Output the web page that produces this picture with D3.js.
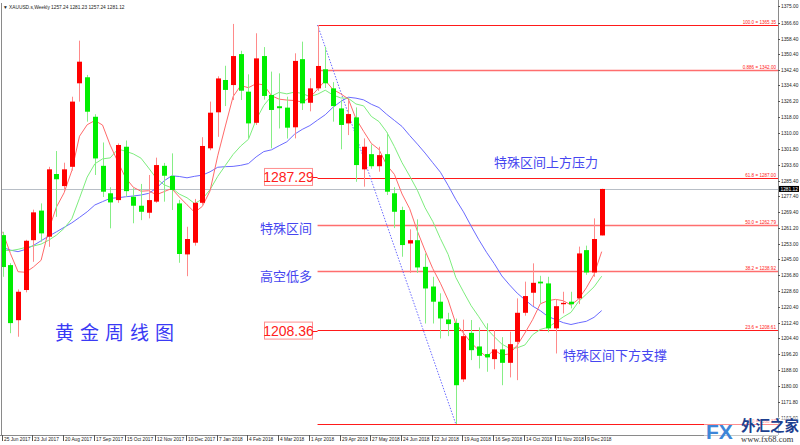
<!DOCTYPE html>
<html><head><meta charset="utf-8">
<script src="https://cdn.jsdelivr.net/npm/d3@7"></script>
<style>body{margin:0;background:#fff}svg{display:block}</style>
</head><body><svg id="c" width="800" height="445"></svg>
<script>
// ---------------- data ----------------
const titleText = "\u25BC XAUUSD.s,Weekly  1257.24 1281.23 1257.24 1281.12";
const firstWeek = "2017-06-25", lastWeek = "2018-12-23";

const open = [1257.4,1242.0,1213.7,1229.2,1254.8,1270.0,1256.6,1288.8,1282.6,1292.5,
1335.4,1338.5,1318.2,1293.0,1278.9,1275.4,1302.8,1277.1,1272.5,1268.9,
1274.6,1293.0,1287.8,1273.7,1247.5,1253.5,1274.0,1302.0,1320.5,1337.1,
1334.5,1350.4,1331.1,1315.1,1349.4,1329.4,1323.6,1322.9,1312.8,1347.8,
1325.4,1332.8,1342.6,1332.8,1322.5,1314.8,1317.9,1291.2,1299.0,1292.8,
1299.0,1278.9,1270.3,1253.1,1254.8,1241.1,1231.0,1223.2,1214.1,1212.3,
1183.3,1207.2,1200.2,1196.3,1193.7,1198.7,1191.8,1202.6,1217.5,1227.8,
1233.5,1232.6,1209.5,1221.9,1223.2,1224.9,1249.7,1238.2,1257.24];
const high = [1259.1,1243.0,1229.5,1255.0,1270.5,1273.7,1292.5,1300.6,1294.6,1328.5,
1357.3,1339.7,1319.5,1305.0,1282.0,1304.5,1306.0,1281.5,1283.7,1288.3,
1297.2,1294.5,1299.4,1275.5,1261.7,1276.0,1307.7,1326.0,1339.0,1344.4,
1365.9,1352.1,1340.0,1361.1,1354.0,1341.4,1340.5,1328.5,1350.8,1356.8,
1338.0,1365.35,1354.2,1336.0,1327.0,1326.8,1323.0,1307.1,1304.0,1302.8,
1310.0,1282.0,1272.0,1260.4,1265.5,1248.0,1236.0,1227.5,1217.5,1214.5,
1214.0,1213.8,1210.0,1212.1,1208.6,1205.0,1207.8,1224.9,1233.5,1242.9,
1236.5,1236.0,1224.4,1228.3,1228.3,1251.5,1252.0,1266.0,1281.23];
const low = [1236.0,1207.0,1205.2,1228.0,1243.7,1254.0,1251.4,1266.8,1280.0,1290.5,
1326.0,1315.7,1288.3,1277.0,1260.9,1274.0,1277.1,1263.5,1265.1,1266.0,
1274.0,1274.6,1270.3,1243.2,1236.3,1252.0,1273.0,1301.0,1307.9,1323.7,
1326.8,1326.8,1307.1,1314.0,1327.0,1302.0,1312.2,1307.0,1307.1,1321.7,
1321.0,1331.5,1333.0,1315.7,1301.5,1308.8,1284.8,1282.3,1291.5,1290.0,
1278.0,1261.0,1246.3,1238.0,1238.0,1212.0,1212.0,1204.3,1205.5,1160.37,
1182.0,1193.2,1188.9,1187.2,1188.5,1180.3,1184.3,1182.9,1216.0,1221.0,
1222.3,1207.5,1196.6,1217.2,1219.8,1222.0,1237.0,1236.0,1257.24];
const close = [1241.0,1212.2,1228.3,1254.5,1269.1,1258.3,1291.2,1286.1,1291.2,1326.0,
1346.5,1320.8,1296.8,1279.7,1274.2,1303.7,1280.0,1272.5,1269.4,1275.4,
1293.4,1287.9,1280.6,1247.7,1255.4,1274.0,1303.2,1320.3,1337.9,1332.0,
1349.4,1331.6,1314.8,1348.2,1328.9,1321.7,1322.6,1312.6,1346.9,1325.1,
1332.8,1344.3,1335.4,1323.7,1314.0,1319.6,1293.4,1302.8,1292.8,1298.5,
1279.7,1269.4,1252.3,1254.8,1240.8,1230.0,1223.2,1214.6,1211.7,1180.3,
1205.5,1198.3,1195.4,1194.6,1198.7,1191.8,1201.4,1217.5,1226.1,1232.9,
1232.6,1209.5,1220.9,1222.6,1221.9,1248.0,1238.2,1255.4,1281.12];

// moving-average values before enough visible bars exist
const ma5Head  = [1259.1,1248.0,1238.6,1238.3];
const ma10Head = [1249.7,1249.4,1250.1,1251.1,1251.8,1252.8,1254.8,1257.4,1260.9];
const ma20Head = [1251.1,1249.7,1248.9,1250.1,1252.1,1254.5,1256.9,1259.1,1261.4,1263.7,
                  1266.5,1269.4,1272.9,1274.6,1276.3,1276.6,1277.1,1277.5,1278.0];

const priceTicks = ["1375.00","1366.60","1358.40","1350.40","1342.40","1334.40","1326.20","1318.00",
"1310.00","1301.80","1293.60","1285.40","1277.40","1269.40","1261.20","1253.00","1245.00","1236.80",
"1228.60","1220.40","1212.40","1204.40","1196.20","1188.00","1180.00","1171.80","1163.60"];
const dateTicks = ["25 Jun 2017","23 Jul 2017","20 Aug 2017","17 Sep 2017","15 Oct 2017","12 Nov 2017",
"10 Dec 2017","7 Jan 2018","4 Feb 2018","4 Mar 2018","1 Apr 2018","29 Apr 2018","27 May 2018",
"24 Jun 2018","22 Jul 2018","19 Aug 2018","16 Sep 2018","14 Oct 2018","11 Nov 2018","9 Dec 2018"];

const fibNames  = ["100.0","0.886","61.8","50.0","38.2","23.6","0.0"];
const fibValues = [1365.35,1342.00,1287.00,1262.79,1238.92,1208.61,1160.37];
const fibStrong = [true,false,true,false,false,true,true];
const currentPrice = 1281.12;
const swingHighWeek = "2018-04-08", swingLowWeek = "2018-08-12";

const boxTexts  = ["1287.29","1208.36"];
const boxValues = [1287.29,1208.36];
const noteTexts  = ["特殊区间上方压力","特殊区间","高空低多","特殊区间下方支撑"];
const noteValues = [1295.0,1261.0,1236.4,1196.0];
const chartTitle = "黄金周线图";

// ---------------- drawing ----------------
const svg = d3.select("#c");
const axisX = 778, axisY = 435;
const noteX = [494, 260, 260, 563];
const parse = d3.timeParse("%Y-%m-%d");
const parseTick = d3.timeParse("%d %b %Y");
const weeks = d3.timeSunday.range(parse(firstWeek), d3.timeDay.offset(parse(lastWeek), 1));
const x = d3.scaleTime().domain([parse(firstWeek), parse(lastWeek)]).range([2.7, 601.7]);
const y = d3.scaleLinear().domain([1160.37, 1365.35]).range([424, 25]);

const bars = weeks.map((d,i)=>({d, o:open[i], h:high[i], l:low[i], c:close[i]}));
function sma(p, head){ return close.map((c,i)=> i < p-1 ? head[i] : d3.mean(close.slice(i-p+1, i+1))); }
const ma5 = sma(5, ma5Head), ma10 = sma(10, ma10Head), ma20 = sma(20, ma20Head);

const plot = svg.append("g");
plot.append("clipPath").attr("id","pc").append("rect").attr("x",2).attr("y",0).attr("width",axisX-2).attr("height",axisY);

// current price line
plot.append("line").attr("x1",2).attr("x2",axisX).attr("y1",Math.round(y(currentPrice))+0.5).attr("y2",Math.round(y(currentPrice))+0.5)
  .attr("stroke","#b8bec6").attr("stroke-width",1);

// fib lines
const fx0 = x(parse(swingHighWeek));
fibValues.forEach((v,i)=>{
  const yy = Math.round(y(v)) + 0.5;
  plot.append("line").attr("x1",fx0).attr("x2",axisX).attr("y1",yy).attr("y2",yy)
    .attr("stroke", fibStrong[i] ? "#ff1a1a" : "#ff6e6e").attr("stroke-width", fibStrong[i] ? 1 : 1.6);
  plot.append("text").attr("x",axisX-2).attr("y",yy-1.5).attr("text-anchor","end")
    .attr("font-family","Liberation Sans, Arial").attr("font-size",4.6).attr("fill","#ff2020")
    .text(fibNames[i] + " = " + v.toFixed(2));
});

// trend dotted line
plot.append("line").attr("x1",fx0).attr("y1",y(fibValues[0])).attr("x2",x(parse(swingLowWeek))).attr("y2",y(fibValues[6]))
  .attr("stroke","#6a6aff").attr("stroke-width",1).attr("stroke-dasharray","1.5,1.5");

// moving averages
const lineGen = arr => d3.line().x((d,i)=>x(weeks[i])).y(d=>y(d))(arr);
const maG = plot.append("g").attr("clip-path","url(#pc)").attr("fill","none").attr("stroke-width",1);
maG.append("path").attr("d",lineGen(ma20)).attr("stroke","#6b6bff");
maG.append("path").attr("d",lineGen(ma10)).attr("stroke","#7ded7d");
maG.append("path").attr("d",lineGen(ma5)).attr("stroke","#ff6a6a");

// candles
const cg = plot.append("g").attr("clip-path","url(#pc)");
bars.forEach(b=>{
  const cx = Math.round(x(b.d));
  const up = b.c >= b.o;
  cg.append("line").attr("x1",cx+0.5).attr("x2",cx+0.5).attr("y1",y(b.h)).attr("y2",y(b.l))
    .attr("stroke", up ? "#ff8a8a" : "#86ee86").attr("stroke-width",1);
  const top = y(Math.max(b.o,b.c)), bot = y(Math.min(b.o,b.c));
  cg.append("rect").attr("x",cx-2).attr("width",5).attr("y",top).attr("height",Math.max(1.2,bot-top))
    .attr("fill", up ? "#ff0000" : "#00ee00");
});

// boxed price labels
boxValues.forEach((v,i)=>{
  const yy = y(v);
  plot.append("line").attr("x1",312.7).attr("x2",fx0).attr("y1",Math.round(yy)+0.5).attr("y2",Math.round(yy)+0.5).attr("stroke","#ff1a1a");
  plot.append("rect").attr("x",264.5).attr("y",yy-8.5).attr("width",48).attr("height",17)
    .attr("fill","#fff").attr("stroke","#ff8e8e").attr("stroke-width",1);
  plot.append("text").attr("x",288.5).attr("y",yy+5).attr("text-anchor","middle")
    .attr("font-family","Liberation Sans, Arial").attr("font-size",14).attr("fill","#ff2020").text(boxTexts[i]);
});

// notes
noteTexts.forEach((t,i)=>{
  plot.append("text").attr("x", noteX[i]).attr("y",y(noteValues[i])+5)
    .attr("font-family","Noto Sans CJK SC").attr("font-size",13).attr("fill","#4646f0").text(t);
});
plot.append("text").attr("x",55).attr("y",340).attr("font-family","Noto Sans CJK SC").attr("font-size",19)
  .attr("letter-spacing",6).attr("fill","#3a3af5").text(chartTitle);

// frame
svg.append("line").attr("x1",1.5).attr("x2",1.5).attr("y1",3).attr("y2",axisY).attr("stroke","#8a8a8a");
svg.append("line").attr("x1",axisX+0.5).attr("x2",axisX+0.5).attr("y1",0).attr("y2",axisY).attr("stroke","#8a8a8a");
svg.append("line").attr("x1",0).attr("x2",axisX).attr("y1",axisY+0.5).attr("y2",axisY+0.5).attr("stroke","#8a8a8a");

// right price axis
const ra = svg.append("g").attr("font-family","Liberation Sans, Arial").attr("font-size",4.8).attr("fill","#222");
priceTicks.forEach(t=>{
  const yy = Math.round(y(+t)) + 0.5;
  ra.append("line").attr("x1",axisX).attr("x2",axisX+2).attr("y1",yy).attr("y2",yy).attr("stroke","#555");
  ra.append("text").attr("x",axisX+3).attr("y",yy+1.7).text(t);
});
const cpY = y(currentPrice);
svg.append("rect").attr("x",axisX+1).attr("y",cpY-3).attr("width",20).attr("height",6).attr("fill","#000");
svg.append("text").attr("x",axisX+2.5).attr("y",cpY+1.8).attr("font-family","Liberation Sans, Arial").attr("font-size",4.8)
  .attr("fill","#fff").text(currentPrice.toFixed(2));

// bottom date axis
const ba = svg.append("g").attr("font-family","Liberation Sans, Arial").attr("font-size",4.8).attr("fill","#222");
dateTicks.forEach(t=>{
  const xx = Math.round(x(parseTick(t))) + 0.5;
  ba.append("line").attr("x1",xx-1).attr("x2",xx-1).attr("y1",axisY).attr("y2",axisY+6).attr("stroke","#555");
  ba.append("text").attr("x",xx+0.5).attr("y",axisY+6).text(t);
});

// title
svg.append("text").attr("x",3).attr("y",9).attr("font-family","Liberation Sans, Arial").attr("font-size",4.8).attr("fill","#222").text(titleText);

// watermark (image overlay in the reference)
const wm = svg.append("g");
wm.append("rect").attr("x",704).attr("y",417).attr("width",96).attr("height",28).attr("fill","#fff").attr("opacity",0.5);
wm.append("text").attr("x",706).attr("y",439).attr("font-family","Liberation Sans, Arial").attr("font-weight","bold")
  .attr("font-size",21).attr("fill","#3d86d8").text("FX");
wm.append("text").attr("x",741).attr("y",431).attr("font-family","Noto Sans CJK SC").attr("font-weight","bold")
  .attr("font-size",14.5).attr("fill","#1d3f8f").text("外汇之家");
wm.append("text").attr("x",741).attr("y",442).attr("font-family","Liberation Serif, serif")
  .attr("font-size",8.5).attr("fill","#333").text("www.fx68.com");
</script></body></html>
